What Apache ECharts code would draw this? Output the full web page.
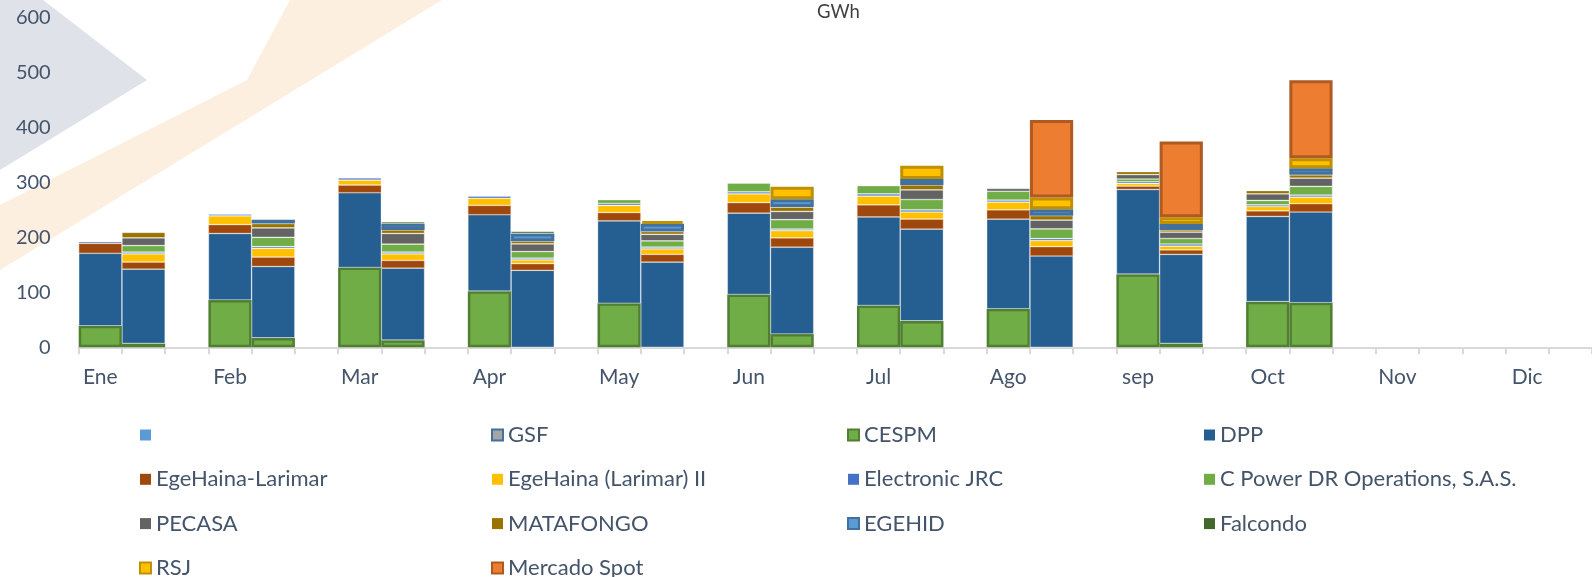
<!DOCTYPE html>
<html><head><meta charset="utf-8">
<script src="https://cdn.jsdelivr.net/npm/echarts@6/dist/echarts.min.js"></script>
<style>html,body{margin:0;padding:0;background:#fff}#c{width:1592px;height:577px}</style>
</head><body><div id="c"></div><script>
// ---- data ----
const months = ['Ene','Feb','Mar','Apr','May','Jun','Jul','Ago','sep','Oct','Nov','Dic'];
const yTicks = [0,100,200,300,400,500,600];
const seriesNames = [' ','GSF','CESPM','DPP','EgeHaina-Larimar','EgeHaina (Larimar) II','Electronic JRC','C Power DR Operations, S.A.S.','PECASA','MATAFONGO','EGEHID','Falcondo','RSJ','Mercado Spot'];

// left bar of each month (Ene..Oct) / right bar of each month
const blank_L   = [0,0,0,0,0,0,0,0,0,0];
const blank_R   = [0,0,0,0,0,0,0,0,0,0];
const GSF_L     = [0,0,0,0,0,0,0,0,0,0];
const GSF_R     = [0,0,0,0,0,0,0,0,0,0];
const CESPM_L   = [39,86,145,102,80,96,76,70,133,83];
const CESPM_R   = [7,17,13,0,0,24,48,0,7,81];
const DPP_L     = [132,121,136,139,150,148,161,163,154,155];
const DPP_R     = [135,130,131,140,155,158,167,166,162,165];
const EHL_L     = [18,16,14,17,15,19,22,17,6,10];
const EHL_R     = [13,17,14,12,14,17,18,17,8,15];
const EH2_L     = [0,16,9,13,13,16,16,14,5,8];
const EH2_R     = [15,16,12,7,10,13,13,11,7,12];
const JRC_L     = [3,3,4,4,3.5,3.6,4,3.7,3,3];
const JRC_R     = [3,3,3,3,3,3,3.7,3.7,3.8,3.6];
const CPOWER_L  = [0,0,0,0,7,16,15,16,5,8];
const CPOWER_R  = [12,17,14.5,12,11.5,17,19,17.5,10,16];
const PECASA_L  = [0,0,0,0,0,0,0,5,8,12];
const PECASA_R  = [14,17,19.5,14,12,15,17.5,16,11.5,15];
const MATA_L    = [0,0,0,0,0,0,0,0,5.5,6];
const MATA_R    = [10,8,6.5,5,5,8,9,8,4,6];
const EGEHID_L  = [0,0,0,0,0,0,0,0,0,0];
const EGEHID_R  = [0,7,11,14,14,14,11,12,11,12];
const FALC_L    = [0,0,0,0,0,0,0,0,0,0];
const FALC_R    = [0,0,3.7,3.7,0,0,0,0,0,0];
const RSJ_L     = [0,0,0,0,0,0,0,0,0,0];
const RSJ_R     = [0,0,0,0,5,23,24,21,12,18];
const SPOT_L    = [0,0,0,0,0,0,0,0,0,0];
const SPOT_R    = [0,0,0,0,0,0,0,141,138,142];

const pairs = [
  [blank_L,blank_R],[GSF_L,GSF_R],[CESPM_L,CESPM_R],[DPP_L,DPP_R],[EHL_L,EHL_R],[EH2_L,EH2_R],
  [JRC_L,JRC_R],[CPOWER_L,CPOWER_R],[PECASA_L,PECASA_R],[MATA_L,MATA_R],[EGEHID_L,EGEHID_R],
  [FALC_L,FALC_R],[RSJ_L,RSJ_R],[SPOT_L,SPOT_R]
];

// ---- styles ----
const thin = 'rgba(255,255,255,0.45)';
const styles = [
  {color:'#5B9BD5', borderColor:thin, borderWidth:0.7},
  {color:'#A5A5A5', borderColor:'#41719C', borderWidth:2.5},
  {color:'#70AD47', borderColor:'#507E32', borderWidth:2.5},
  {color:'#255E91', borderColor:thin, borderWidth:0.7},
  {color:'#9E480E', borderColor:'rgba(244,177,131,0.6)', borderWidth:0.7},
  {color:'#FFC000', borderColor:thin, borderWidth:0.7},
  {color:'#4472C4', borderColor:thin, borderWidth:0.7},
  {color:'#70AD47', borderColor:thin, borderWidth:0.7},
  {color:'#636363', borderColor:thin, borderWidth:0.7},
  {color:'#997300', borderColor:thin, borderWidth:0.7},
  {color:'#5B9BD5', borderColor:'#41719C', borderWidth:3},
  {color:'#43682B', borderColor:thin, borderWidth:0.7},
  {color:'#FFC000', borderColor:'#BF9000', borderWidth:3},
  {color:'#ED7D31', borderColor:'#AE5A21', borderWidth:3}
];

const nSlots = 35;
const slots = [];
for (let i = 0; i < nSlots; i++) slots.push(String(i));

function buildData(L, R) {
  const out = [];
  for (let i = 0; i < nSlots; i++) {
    const m = Math.floor(i / 3), p = i % 3;
    let v = null;
    if (m < L.length) {
      if (p === 0) v = L[m];
      else if (p === 1) v = R[m];
    }
    out.push(v && v > 0 ? v : null);
  }
  return out;
}

const series = seriesNames.map((name, k) => ({
  name: name,
  type: 'bar',
  stack: 'total',
  barCategoryGap: '0%',
  barWidth: '100%',
  itemStyle: styles[k],
  emphasis: {disabled: true},
  data: buildData(pairs[k][0], pairs[k][1])
}));

const txt = '#44546A';
const font = 'Lato';
const legendCols = [
  {left: 139, names: [' ','EgeHaina-Larimar','PECASA','RSJ']},
  {left: 491, names: ['GSF','EgeHaina (Larimar) II','MATAFONGO','Mercado Spot']},
  {left: 847, names: ['CESPM','Electronic JRC','EGEHID']},
  {left: 1204, names: ['DPP','C Power DR Operations, S.A.S.','Falcondo']}
];
const bordered = {'GSF':1,'CESPM':1,'EGEHID':1,'RSJ':1,'Mercado Spot':1};
const legends = legendCols.map(c => ({
  orient: 'vertical',
  left: c.left,
  top: 424,
  height: 170,
  padding: 0,
  itemWidth: 11,
  itemHeight: 11,
  itemGap: 22.3,
  icon: 'rect',
  selectedMode: false,
  textStyle: {color: txt, fontSize: 22, fontFamily: font, lineHeight: 20},
  data: c.names.map(n => bordered[n] ? {name: n, itemStyle: {borderWidth: 2}} : {name: n, itemStyle: {borderWidth: 0}})
}));

const chart = echarts.init(document.getElementById('c'), null, {renderer: 'canvas'});
chart.setOption({
  animation: false,
  backgroundColor: '#ffffff',
  textStyle: {fontFamily: font},
  title: {text: 'GWh', left: 812, top: -2, textStyle: {color: '#404040', fontSize: 18.5, fontWeight: 'normal', fontFamily: font}},
  graphic: [
    {type: 'polygon', z: -10, silent: true, shape: {points: [[0,0],[43,0],[147,80],[0,170]]}, style: {fill: '#DFE2E8'}},
    {type: 'polygon', z: -10, silent: true, shape: {points: [[290,0],[442,0],[0,270],[0,205],[247,80]]}, style: {fill: '#FDEFDF'}}
  ],
  legend: legends,
  grid: {left: 78.7, right: -3.4, top: 17.3, bottom: 229.7, containLabel: false},
  xAxis: {
    type: 'category',
    data: slots,
    boundaryGap: true,
    axisLine: {lineStyle: {color: '#D9D9D9', width: 2}},
    axisTick: {show: true, interval: 0, length: 7, lineStyle: {color: '#D9D9D9', width: 2}},
    axisLabel: {interval: 0, color: txt, fontSize: 21, fontFamily: font, margin: 19,
      formatter: (v, i) => (i % 3 === 0 ? months[i / 3] : '')}
  },
  yAxis: {
    type: 'value', min: yTicks[0], max: yTicks[yTicks.length - 1], interval: 100,
    axisLine: {show: false}, axisTick: {show: false}, splitLine: {show: false},
    axisLabel: {color: txt, fontSize: 20, fontFamily: font, margin: 28}
  },
  series: series
});
</script></body></html>
